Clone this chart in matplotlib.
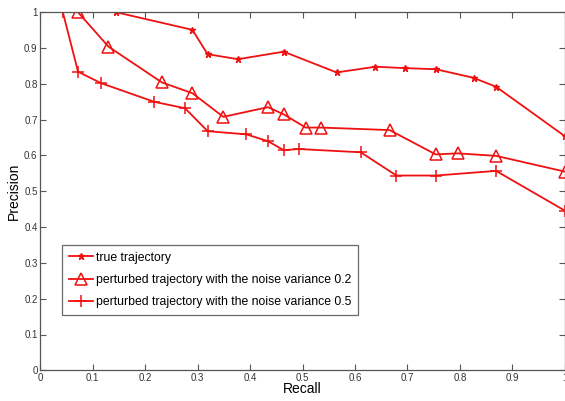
import numpy as np
import matplotlib
matplotlib.use("Agg")
import matplotlib.pyplot as plt

plt.rcParams['font.family'] = ['Liberation Sans', 'DejaVu Sans']

# true trajectory
recall_true = [0.145, 0.290, 0.319, 0.377, 0.464, 0.565, 0.639, 0.696, 0.754, 0.826, 0.869, 1.0]
prec_true = [1.0, 0.951, 0.883, 0.869, 0.890, 0.832, 0.848, 0.844, 0.841, 0.817, 0.792, 0.654]

# noise variance 0.2
recall_02 = [0.072, 0.130, 0.232, 0.290, 0.349, 0.434, 0.464, 0.506, 0.536, 0.666, 0.754, 0.796, 0.869, 1.0]
prec_02 = [1.0, 0.904, 0.804, 0.774, 0.708, 0.735, 0.715, 0.678, 0.678, 0.671, 0.603, 0.606, 0.599, 0.555]

# noise variance 0.5
recall_05 = [0.043, 0.072, 0.116, 0.217, 0.276, 0.319, 0.393, 0.434, 0.464, 0.493, 0.611, 0.679, 0.754, 0.869, 1.0]
prec_05 = [1.0, 0.834, 0.802, 0.750, 0.732, 0.668, 0.659, 0.640, 0.615, 0.618, 0.609, 0.544, 0.544, 0.557, 0.446]

ticks = np.arange(0, 1.01, 0.1)
tick_labels = ['0', '0.1', '0.2', '0.3', '0.4', '0.5', '0.6', '0.7', '0.8', '0.9', '1']

W, H = 565, 401
fig = plt.figure(figsize=(W / 100, H / 100), dpi=100)
ax = fig.add_axes([40.3 / W, (H - 370.3) / H, 524.5 / W, 358 / H])

red = '#f01010'
ax.plot(recall_true, prec_true, '-', color=red, lw=1.3, marker='*', ms=5,
        label='true trajectory')
ax.plot(recall_02, prec_02, '-', color=red, lw=1.3, marker='^', ms=8, mfc='none',
        mew=1.1, label='perturbed trajectory with the noise variance 0.2')
ax.plot(recall_05, prec_05, '-', color=red, lw=1.3, marker='+', ms=9, mew=1.1,
        label='perturbed trajectory with the noise variance 0.5')

ax.set_xlim(0, 1)
ax.set_ylim(0, 1)
ax.set_xticks(ticks)
ax.set_yticks(ticks)
ax.set_xticklabels(tick_labels)
ax.set_yticklabels(tick_labels)
ax.tick_params(direction='in', length=4, width=0.8, color='#555555',
               labelsize=7, labelcolor='#333333', top=True, right=True, pad=2)
for s in ax.spines.values():
    s.set_color('#555555')
    s.set_linewidth(0.9)

ax.set_xlabel('Recall', fontsize=10, labelpad=-1)
ax.set_ylabel('Precision', fontsize=10, labelpad=2)

# legend box: left edge at px 62, top at px 245
leg = ax.legend(loc='upper left', bbox_to_anchor=((62 - 40.3) / 524.5, (370.3 - 245) / 358),
                fontsize=8.8, frameon=True, fancybox=False, handlelength=2.0,
                borderaxespad=0, labelspacing=0.85, handletextpad=0.2, borderpad=0.55)
leg.get_frame().set_edgecolor('#444444')
leg.get_frame().set_linewidth(0.9)

fig.savefig('out.png', dpi=100)
